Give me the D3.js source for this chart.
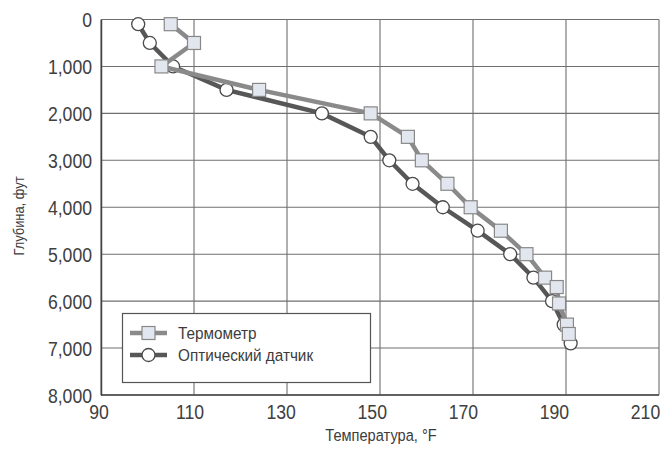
<!DOCTYPE html>
<html>
<head>
<meta charset="utf-8">
<script src="https://cdn.jsdelivr.net/npm/d3@7"></script>
<style>
  html, body { margin: 0; padding: 0; background: #fff; }
  svg text { font-family: "Liberation Sans", Arial, sans-serif; fill: #3c3c3c; }
</style>
</head>
<body>
<svg id="chart" width="660" height="449"></svg>
<script>
// Temperature (°F) versus depth (ft) for two measurement methods
const thermoTemp  = [105, 110, 103, 124, 148, 156, 159, 164.5, 169.5, 176, 181.5, 185.5, 188, 188.5, 190.2, 190.6];
const thermoDepth = [100, 500, 1000, 1500, 2000, 2500, 3000, 3500, 4000, 4500, 5000, 5500, 5700, 6050, 6500, 6700];

const opticTemp  = [98, 100.5, 105.5, 117, 137.5, 148, 152, 157, 163.5, 171, 178, 183, 187, 189.5, 191];
const opticDepth = [100, 500, 1000, 1500, 2000, 2500, 3000, 3500, 4000, 4500, 5000, 5500, 6000, 6500, 6900];

const xTicks = [90, 110, 130, 150, 170, 190, 210];
const yTicks = [0, 1000, 2000, 3000, 4000, 5000, 6000, 7000, 8000];

const seriesNames = ["Термометр", "Оптический датчик"];
const xTitle = "Температура, °F";
const yTitle = "Глубина, фут";

const svg = d3.select("#chart");
const m = { left: 101, right: 659, top: 19.5, bottom: 395 };
const squeeze = 0.86; // condensed look for the typeface

const x = d3.scaleLinear().domain([90, 210]).range([m.left, m.right]);
const y = d3.scaleLinear().domain([0, 8000]).range([m.top, m.bottom]);
// tick labels sit on a slightly tighter spacing than the grid
const xLab = d3.scaleLinear().domain([90, 210]).range([98.5, 645]);

// grid
const grid = svg.append("g").attr("stroke", "#6f6f6f").attr("stroke-width", 1.1);
grid.selectAll("line.v").data(xTicks).join("line")
  .attr("x1", d => x(d)).attr("x2", d => x(d))
  .attr("y1", m.top).attr("y2", m.bottom);
grid.selectAll("line.h").data(yTicks).join("line")
  .attr("x1", m.left).attr("x2", m.right)
  .attr("y1", d => y(d)).attr("y2", d => y(d));

// axes
const fmt = d3.format(",");
const yAxis = svg.append("g").attr("transform", `translate(${m.left},0)`)
  .call(d3.axisLeft(y).tickValues(yTicks).tickFormat(d => fmt(d)).tickSize(0).tickPadding(9));
yAxis.select(".domain").attr("stroke", "#444").attr("stroke-width", 1.5);
yAxis.selectAll("text").attr("font-size", 20.5).attr("dy", "0.36em")
  .attr("x", -9 / squeeze).attr("transform", `scale(${squeeze},1)`).style("fill", "#404040");

svg.append("line").attr("x1", m.left).attr("x2", m.right).attr("y1", m.bottom).attr("y2", m.bottom)
  .attr("stroke", "#444").attr("stroke-width", 1.5);
const xAxis = svg.append("g").attr("transform", `translate(0,${m.bottom})`)
  .call(d3.axisBottom(xLab).tickValues(xTicks).tickFormat(d => d).tickSize(0).tickPadding(9));
xAxis.select(".domain").remove();
xAxis.selectAll("text").attr("font-size", 20.5).attr("dy", "0.72em")
  .attr("transform", `scale(${squeeze},1)`).style("fill", "#404040");

// axis titles
svg.append("text").attr("transform", `translate(381,441) scale(${squeeze},1)`)
  .attr("text-anchor", "middle").attr("font-size", 17).text(xTitle);
svg.append("text").attr("transform", `translate(24,216) rotate(-90) scale(${squeeze},1)`)
  .attr("text-anchor", "middle").attr("font-size", 15).text(yTitle);

const line = d3.line().x(d => x(d[0])).y(d => y(d[1]));
const opticPts = opticTemp.map((t, i) => [t, opticDepth[i]]);
const thermoPts = thermoTemp.map((t, i) => [t, thermoDepth[i]]);

// optical sensor series
svg.append("path").datum(opticPts).attr("d", line)
  .attr("fill", "none").attr("stroke", "#575757").attr("stroke-width", 4.5);
svg.append("g").selectAll("circle").data(opticPts).join("circle")
  .attr("cx", d => x(d[0])).attr("cy", d => y(d[1])).attr("r", 6.5)
  .attr("fill", "#fff").attr("stroke", "#4a4a4a").attr("stroke-width", 1.3);

// thermometer series
svg.append("path").datum(thermoPts).attr("d", line)
  .attr("fill", "none").attr("stroke", "#8a8a8a").attr("stroke-width", 4.5);
svg.append("g").selectAll("rect").data(thermoPts).join("rect")
  .attr("x", d => x(d[0]) - 6.5).attr("y", d => y(d[1]) - 6.5)
  .attr("width", 13).attr("height", 13)
  .attr("fill", "#e2e7ef").attr("stroke", "#888").attr("stroke-width", 1.2);

// legend
const lg = svg.append("g");
lg.append("rect").attr("x", 122.5).attr("y", 313.5).attr("width", 248).attr("height", 69)
  .attr("fill", "#fff").attr("stroke", "#555").attr("stroke-width", 1.2);
const rows = [
  { name: seriesNames[0], color: "#8a8a8a", shape: "square", yy: 333 },
  { name: seriesNames[1], color: "#575757", shape: "circle", yy: 355 }
];
rows.forEach(r => {
  lg.append("line").attr("x1", 130).attr("x2", 167).attr("y1", r.yy).attr("y2", r.yy)
    .attr("stroke", r.color).attr("stroke-width", 4.5);
  if (r.shape === "square") {
    lg.append("rect").attr("x", 142).attr("y", r.yy - 6.5).attr("width", 13).attr("height", 13)
      .attr("fill", "#e2e7ef").attr("stroke", "#888").attr("stroke-width", 1.2);
  } else {
    lg.append("circle").attr("cx", 148.5).attr("cy", r.yy).attr("r", 6.5)
      .attr("fill", "#fff").attr("stroke", "#4a4a4a").attr("stroke-width", 1.3);
  }
  lg.append("text").attr("transform", `translate(178,${r.yy}) scale(0.9,1)`).attr("dy", "0.35em")
    .attr("font-size", 17).text(r.name);
});
</script>
</body>
</html>
